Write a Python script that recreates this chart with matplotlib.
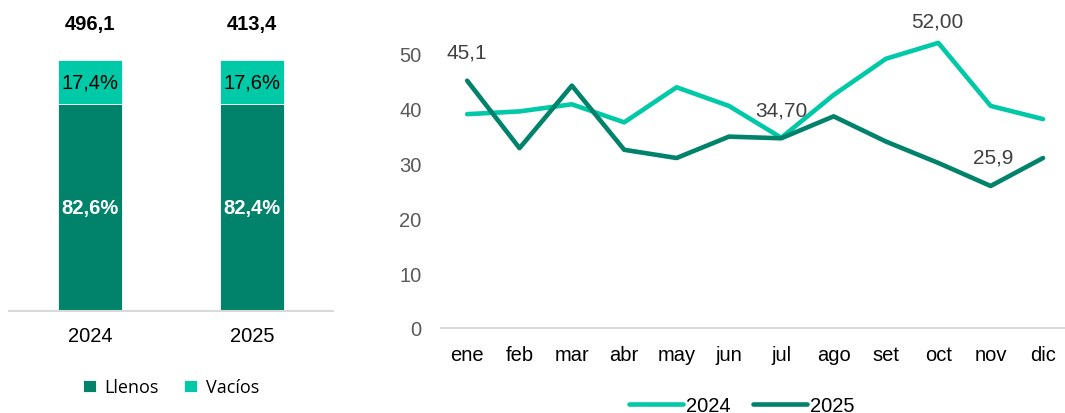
import numpy as np
import matplotlib.pyplot as plt

plt.rcParams['font.family'] = ['Liberation Sans', 'DejaVu Sans']

# Left chart data
years = ['2024', '2025']
totals = ['496,1', '413,4']
llenos = [82.6, 82.4]
vacios = [17.4, 17.6]

# Right chart data
months = ['ene', 'feb', 'mar', 'abr', 'may', 'jun', 'jul', 'ago', 'set', 'oct', 'nov', 'dic']
s2024 = [39.0, 39.5, 40.8, 37.5, 43.9, 40.5, 34.70, 42.5, 49.1, 52.00, 40.5, 38.1]
s2025 = [45.1, 32.8, 44.2, 32.5, 31.0, 34.9, 34.6, 38.6, 34.0, 30.1, 25.9, 31.0]

dark = '#00836A'
light = '#00C9A7'
grey = '#595959'
lab = '#404040'

fig = plt.figure(figsize=(10.65, 4.14), dpi=100)

# ---- stacked bars ----
ax1 = fig.add_axes([9/1065, 102/414, 324/1065, 312/414])
x = np.arange(len(years))
ax1.bar(x, llenos, width=0.4, color=dark, edgecolor='white', linewidth=0.6, label='Llenos')
ax1.bar(x, vacios, bottom=llenos, width=0.4, color=light, edgecolor='white', linewidth=0.6, label='Vacíos')
for i in range(len(years)):
    ax1.text(x[i], llenos[i] / 2, f"{llenos[i]:.1f}%".replace('.', ','), ha='center', va='center',
             color='white', fontsize=14.5, fontweight='bold')
    ax1.text(x[i], llenos[i] + vacios[i] / 2, f"{vacios[i]:.1f}%".replace('.', ','), ha='center',
             va='center', color='black', fontsize=14.5)
    ax1.text(x[i], 114.5, totals[i], ha='center', va='center', fontsize=14.5, fontweight='bold')
ax1.set_xlim(-0.5, 1.5)
ax1.set_ylim(0, 124.3)
ax1.set_xticks(x)
ax1.set_xticklabels(years, fontsize=14.5)
ax1.tick_params(axis='x', length=0, pad=11)
ax1.set_yticks([])
for s in ['top', 'right', 'left']:
    ax1.spines[s].set_visible(False)
ax1.spines['bottom'].set_color('#d9d9d9')
ax1.spines['bottom'].set_linewidth(1.5)
ax1.legend(loc='center', bbox_to_anchor=(0.5, -0.245), ncol=2, frameon=False,
           handlelength=0.7, handleheight=0.7, columnspacing=1.4, handletextpad=0.5,
           prop={'family': 'Open Sans', 'size': 13})

# ---- line chart ----
ax2 = fig.add_axes([441/1065, 85/414, 624/1065, 329/414])
xm = np.arange(len(months))
ax2.plot(xm, s2024, color=light, linewidth=3.3, label='2024', solid_capstyle='round')
ax2.plot(xm, s2025, color=dark, linewidth=3.3, label='2025', solid_capstyle='round')
ax2.set_xlim(-0.5, 11.42)
ax2.set_ylim(0, 60)
ax2.set_yticks([0, 10, 20, 30, 40, 50])
ax2.set_xticks(xm)
ax2.set_xticklabels(months, fontsize=14.5)
ax2.tick_params(axis='x', length=0, pad=12, colors='black')
ax2.tick_params(axis='y', length=0, pad=14, labelsize=14.5, labelcolor=grey)
for s in ['top', 'right', 'left']:
    ax2.spines[s].set_visible(False)
ax2.spines['bottom'].set_color('#d9d9d9')
ax2.spines['bottom'].set_linewidth(1.5)

ax2.annotate('45,1', (0, s2025[0]), xytext=(0, 21), textcoords='offset points',
             ha='center', va='center', fontsize=15, color=lab)
ax2.annotate('34,70', (6, s2024[6]), xytext=(0, 20), textcoords='offset points',
             ha='center', va='center', fontsize=15, color=lab)
ax2.annotate('52,00', (9, s2024[9]), xytext=(-1, 16), textcoords='offset points',
             ha='center', va='center', fontsize=15, color=lab)
ax2.annotate('25,9', (10, s2025[10]), xytext=(2, 21), textcoords='offset points',
             ha='center', va='center', fontsize=15, color=lab)

ax2.legend(loc='center', bbox_to_anchor=(0.482, -0.235), ncol=2, frameon=False,
           handlelength=2.7, handletextpad=0.15, columnspacing=1.1, fontsize=14.5)

fig.savefig('out.png', dpi=100)
